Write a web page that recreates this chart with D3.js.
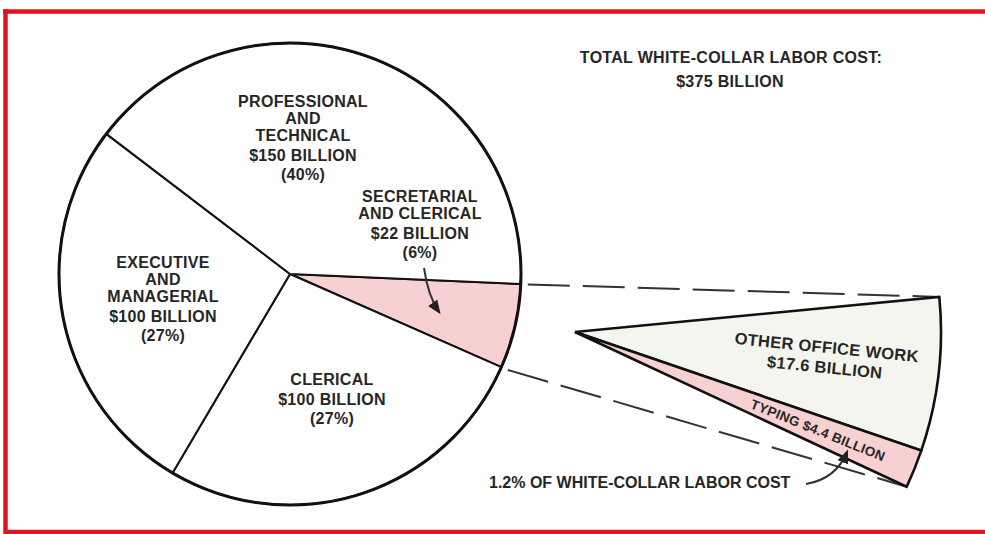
<!DOCTYPE html>
<html>
<head>
<meta charset="utf-8">
<script src="https://cdn.jsdelivr.net/npm/d3@7"></script>
<style>
  html, body { margin: 0; padding: 0; background: #fff; }
  svg { display: block; }
  text { font-family: "Liberation Sans", Arial, sans-serif; font-weight: bold; fill: #262626; letter-spacing: 0.3px; }
</style>
</head>
<body>
<svg id="chart" width="985" height="534"></svg>
<script>
// White-collar labor cost breakdown (billions of dollars)
const totalCost = 375;
const categories = ["SECRETARIAL|AND CLERICAL", "CLERICAL", "EXECUTIVE|AND|MANAGERIAL", "PROFESSIONAL|AND|TECHNICAL"];
const values = [22, 100, 100, 150];

// Breakdown of the secretarial and clerical slice
const detailCategories = ["OTHER OFFICE WORK", "TYPING"];
const detailValues = [17.6, 4.4];

const svg = d3.select("#chart");
const deg = Math.PI / 180;

// frame
const frame = svg.append("g").attr("stroke", "#e3121c").attr("stroke-width", 4.5).attr("fill", "none");
frame.append("path").attr("d", "M3,11.5 H985");
frame.append("path").attr("d", "M5.5,9 V534");
frame.append("path").attr("d", "M4,532 H985");

// main pie
const cx = 290, cy = 274, R = 231;
const startAngle = 92.5 * deg;
const pie = d3.pie().sort(null).value(d => d)
  .startAngle(startAngle).endAngle(startAngle + 2 * Math.PI);
const arcs = pie(values);
const arc = d3.arc().innerRadius(0).outerRadius(R);
const sliceFill = ["#f7d0d1", "#ffffff", "#ffffff", "#ffffff"];

const pieG = svg.append("g").attr("transform", `translate(${cx},${cy})`);
pieG.selectAll("path.slice").data(arcs).join("path")
  .attr("class", "slice")
  .attr("d", arc)
  .attr("fill", (d, i) => sliceFill[i])
  .attr("stroke", "#111")
  .attr("stroke-width", 2)
  .attr("stroke-linejoin", "round");
pieG.append("circle").attr("r", R).attr("fill", "none").attr("stroke", "#111").attr("stroke-width", 3);

// exploded detail wedge
const ax = 575, ay = 332, R2 = 366;
const detailStart = 84.5 * deg, detailEnd = 115 * deg;
const detailPie = d3.pie().sort(null).value(d => d).startAngle(detailStart).endAngle(detailEnd);
const detailArcs = detailPie(detailValues);
const detailArc = d3.arc().innerRadius(0).outerRadius(R2);
const detailFill = ["#f4f5ee", "#f7d0d1"];

const polar = (a, r, ox, oy) => [ox + r * Math.sin(a), oy - r * Math.cos(a)];

// dashed connectors between slice corners and the detail wedge
const secArc = arcs[0];
const connectors = [
  [polar(secArc.startAngle, R + 7, cx, cy), polar(detailStart, R2, ax, ay)],
  [polar(secArc.endAngle, R + 7, cx, cy), polar(detailEnd, R2, ax, ay)]
];
svg.append("g").selectAll("line").data(connectors).join("line")
  .attr("x1", d => d[0][0]).attr("y1", d => d[0][1])
  .attr("x2", d => d[1][0]).attr("y2", d => d[1][1])
  .attr("stroke", "#333").attr("stroke-width", 2)
  .attr("stroke-dasharray", "42,13");

const detG = svg.append("g").attr("transform", `translate(${ax},${ay})`);
detG.selectAll("path").data(detailArcs).join("path")
  .attr("d", detailArc)
  .attr("fill", (d, i) => detailFill[i])
  .attr("stroke", "#111")
  .attr("stroke-width", 2.6)
  .attr("stroke-linejoin", "miter");

// detail labels
const otherMid = (detailArcs[0].startAngle + detailArcs[0].endAngle) / 2;
const otherRot = otherMid / deg - 90 - 1;
const og = detG.append("g").attr("transform", `rotate(${otherRot})`);
og.append("text").attr("x", 252).attr("y", -4).attr("text-anchor", "middle")
  .attr("font-size", 16.5).text(detailCategories[0]);
og.append("text").attr("x", 252).attr("y", 16).attr("text-anchor", "middle")
  .attr("font-size", 16.5).text(`$${detailValues[0]} BILLION`);

const typMid = (detailArcs[1].startAngle + detailArcs[1].endAngle) / 2;
const tg = detG.append("g").attr("transform", `rotate(${typMid / deg - 90})`);
tg.append("text").attr("x", 262).attr("y", 5).attr("text-anchor", "middle")
  .attr("font-size", 13.5).text(`${detailCategories[1]}  $${detailValues[1]} BILLION`);

// slice labels
const labelPos = [
  { x: 420, y: 202 },
  { x: 332, y: 385 },
  { x: 163, y: 268 },
  { x: 303, y: 107 }
];
categories.forEach((name, i) => {
  const lines = name.split("|");
  const g = svg.append("g").attr("text-anchor", "middle");
  let y = labelPos[i].y;
  lines.forEach(l => {
    g.append("text").attr("x", labelPos[i].x).attr("y", y).attr("font-size", 16).text(l);
    y += 17;
  });
  y += 3;
  g.append("text").attr("x", labelPos[i].x).attr("y", y).attr("font-size", 16)
    .text(`$${values[i]} BILLION`);
  y += 19;
  g.append("text").attr("x", labelPos[i].x).attr("y", y).attr("font-size", 16)
    .text(`(${Math.round(values[i] / totalCost * 100)}%)`);
});

// title
svg.append("text").attr("x", 731).attr("y", 63).attr("text-anchor", "middle")
  .attr("font-size", 16).text("TOTAL WHITE-COLLAR LABOR COST:");
svg.append("text").attr("x", 730).attr("y", 87).attr("text-anchor", "middle")
  .attr("font-size", 16).text(`$${totalCost} BILLION`);

// footnote on typing share
const typingShare = (detailValues[1] / totalCost * 100).toFixed(1);
svg.append("text").attr("x", 489).attr("y", 488).attr("font-size", 16)
  .style("letter-spacing", "0px")
  .text(`${typingShare}% OF WHITE-COLLAR LABOR COST`);

// arrows
svg.append("defs").append("marker")
  .attr("id", "head").attr("viewBox", "0 0 10 10").attr("refX", 8).attr("refY", 5)
  .attr("markerWidth", 7).attr("markerHeight", 7).attr("orient", "auto")
  .append("path").attr("d", "M0,1 L10,5 L0,9 Z").attr("fill", "#222");

svg.append("path").attr("d", "M424,268 Q428,296 439,312")
  .attr("fill", "none").attr("stroke", "#333").attr("stroke-width", 2)
  .attr("marker-end", "url(#head)");
svg.append("path").attr("d", "M806,484 Q836,479 847,452")
  .attr("fill", "none").attr("stroke", "#333").attr("stroke-width", 2)
  .attr("marker-end", "url(#head)");
</script>
</body>
</html>
